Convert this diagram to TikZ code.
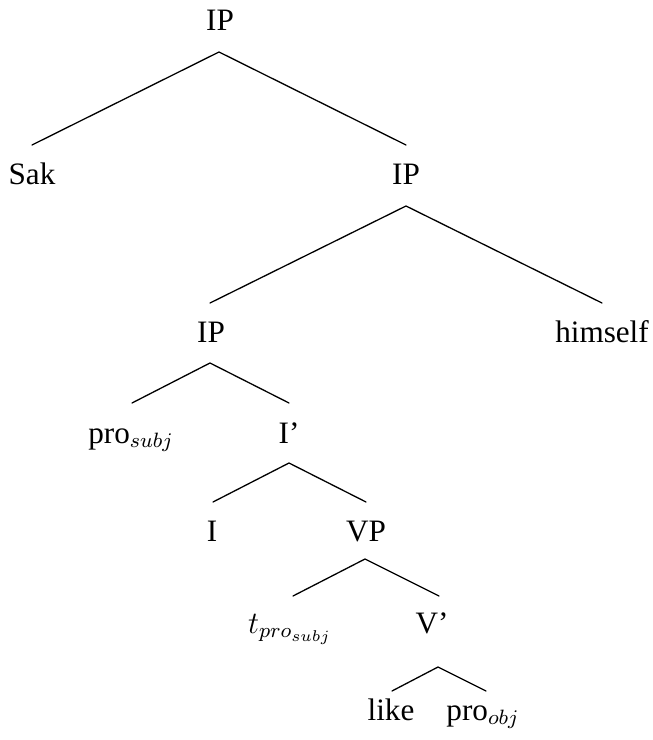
\documentclass[tikz,border=0pt]{standalone}
\usepackage{fontspec}
\setmainfont{Liberation Serif}
\begin{document}
\begin{tikzpicture}[x=0.385pt,y=-0.385pt,
  lbl/.style={anchor=base,inner sep=0pt,outer sep=0pt,font=\fontsize{12}{14}\selectfont},
  branch/.style={line width=0.5pt,line cap=round}]
\useasboundingbox (0,0) rectangle (652,740);
% labels
\node[lbl] (ip1) at (220,31) {IP};
\node[lbl] (sak) at (32,185) {Sak};
\node[lbl] (ip2) at (406,185) {IP};
\node[lbl] (ip3) at (211,343) {IP};
\node[lbl] (himself) at (602,342) {himself};
\node[lbl] (prosubj) at (131,443) {pro$_{subj}$};
\node[lbl] (ibar) at (289,443) {I'};
\node[lbl] (i) at (212,541) {I};
\node[lbl] (vp) at (366,541) {VP};
\node[lbl] (trace) at (290,633) {$t_{pro_{subj}}$};
\node[lbl] (vbar) at (432,633) {V'};
\node[lbl] (like) at (391,720) {like};
\node[lbl] (proobj) at (483,720) {pro$_{obj}$};
% branch points
\coordinate (ip1b) at (219,52);
\coordinate (sakt) at (32,145);
\coordinate (ip2t) at (406,145);
\coordinate (ip2b) at (406,206);
\coordinate (ip3t) at (210,303);
\coordinate (himt) at (602,303);
\coordinate (ip3b) at (210,363);
\coordinate (prot) at (132,403);
\coordinate (ibart) at (289,403);
\coordinate (ibarb) at (289,463);
\coordinate (it) at (213,502);
\coordinate (vpt) at (366,502);
\coordinate (vpb) at (365,559);
\coordinate (trt) at (293,596);
\coordinate (vbart) at (439,596);
\coordinate (vbarb) at (438,667);
\coordinate (liket) at (392,691);
\coordinate (proobjt) at (486,691);
% connectors
\draw[branch] (sakt) -- (ip1b) -- (ip2t);
\draw[branch] (ip3t) -- (ip2b) -- (himt);
\draw[branch] (prot) -- (ip3b) -- (ibart);
\draw[branch] (it) -- (ibarb) -- (vpt);
\draw[branch] (trt) -- (vpb) -- (vbart);
\draw[branch] (liket) -- (vbarb) -- (proobjt);
\end{tikzpicture}
\end{document}
